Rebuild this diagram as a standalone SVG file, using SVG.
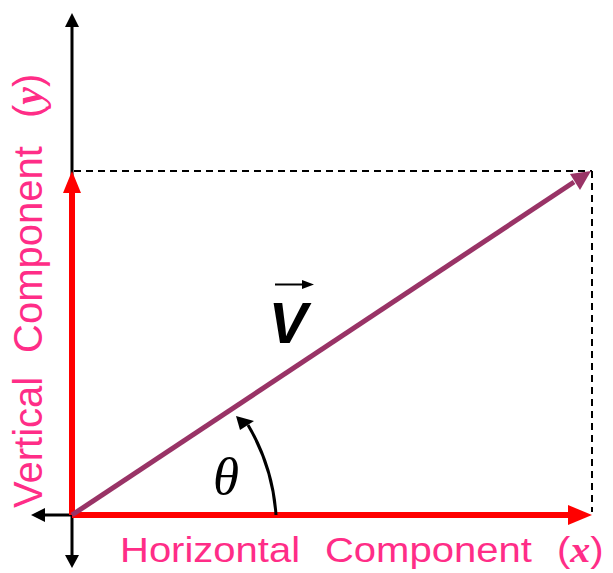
<svg xmlns="http://www.w3.org/2000/svg" width="613" height="573" viewBox="0 0 613 573">
<style>
.axis{stroke:#000;stroke-width:3;fill:none}
.dash{stroke:#000;stroke-width:2;stroke-dasharray:7 5;fill:none}
.red{stroke:#FF0000;stroke-width:6;fill:none}
.vec{stroke:#993366;stroke-width:5;fill:none}
.lbl{font-family:"Liberation Sans",Arial,sans-serif;font-size:40px;fill:#FF2D87}
.var{font-family:"Liberation Serif","Times New Roman",serif;font-weight:bold;font-style:italic}
</style>
<rect width="613" height="573" fill="#fff"/>
<g id="connectors">
  <g id="axes">
    <line class="axis" x1="72" y1="24" x2="72" y2="560"/>
    <polygon points="72,13 65,27 79,27" fill="#000"/>
    <polygon points="72,568 65,555 79,555" fill="#000"/>
    <line class="axis" x1="40" y1="515" x2="72" y2="515"/>
    <polygon points="31,515 45,508 45,522" fill="#000"/>
  </g>
  <g id="dashed">
    <line class="dash" x1="74" y1="171" x2="592" y2="171"/>
    <line class="dash" x1="592" y1="171" x2="592" y2="512"/>
  </g>
  <g id="horizontal-component">
    <line class="red" x1="72" y1="515" x2="572" y2="515"/>
    <polygon points="592,515 568,505 568,525" fill="#FF0000"/>
  </g>
  <g id="vertical-component">
    <line class="red" x1="72" y1="515" x2="72" y2="190"/>
    <polygon points="72,171 63,193 81,193" fill="#FF0000"/>
  </g>
  <g id="vector-v">
    <line class="vec" x1="72" y1="515" x2="574" y2="182"/>
    <polygon points="591,171 570,174 580,190" fill="#993366"/>
  </g>
  <g id="angle-arc">
    <path class="axis" d="M276,515 A204,204 0 0 0 248,425"/>
    <polygon points="236,416 240,430 254,421" fill="#000"/>
  </g>
</g>
<g id="label-v">
  <line x1="275" y1="284.5" x2="306" y2="284.5" stroke="#000" stroke-width="2"/>
  <polygon points="314,284.5 302,280 302,289" fill="#000"/>
  <text x="288" y="343" text-anchor="middle" font-family="'Liberation Sans',Arial,sans-serif" font-weight="bold" font-style="italic" font-size="58">V</text>
</g>
<g id="label-theta">
  <text x="226" y="494" text-anchor="middle" font-family="'Liberation Serif','Times New Roman',serif" font-style="italic" font-size="53">θ</text>
</g>
<g id="label-horizontal">
  <text class="lbl" transform="translate(120,562) scale(1,0.87)"><tspan x="0">Horizontal</tspan><tspan x="205">Component</tspan><tspan x="437">(</tspan><tspan class="var">x</tspan><tspan>)</tspan></text>
</g>
<g id="label-vertical">
  <text class="lbl" transform="translate(42,508) rotate(-90)"><tspan x="0">Vertical</tspan><tspan x="155">Component</tspan><tspan x="390">(</tspan><tspan class="var">y</tspan><tspan>)</tspan></text>
</g>
</svg>
